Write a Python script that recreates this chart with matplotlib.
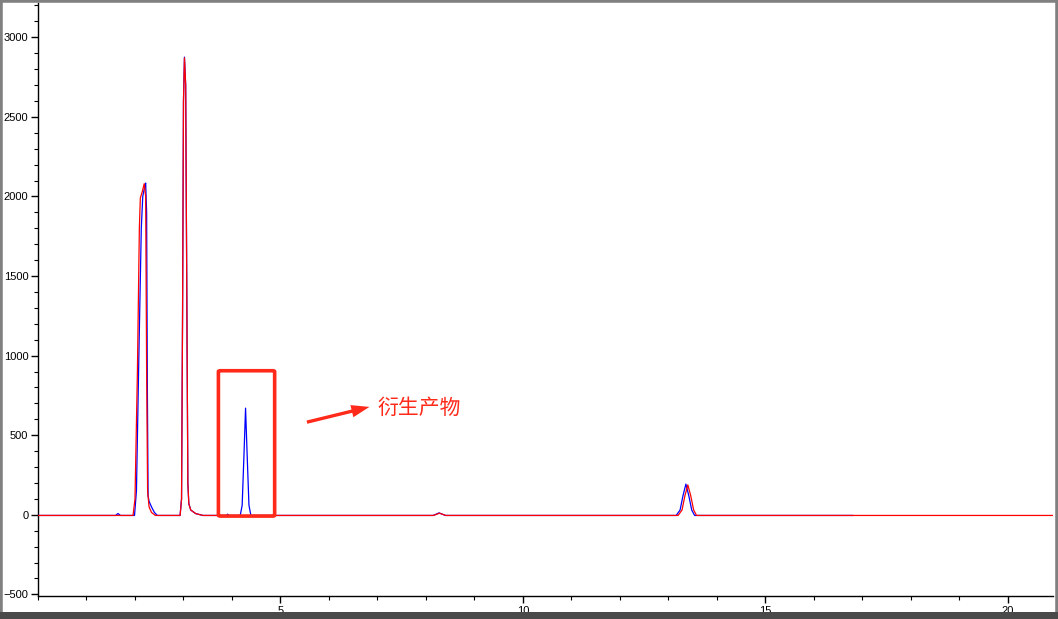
import numpy as np
import matplotlib
matplotlib.use("Agg")
import matplotlib.pyplot as plt
from matplotlib.patches import FancyBboxPatch, FancyArrowPatch, Rectangle
from matplotlib.ticker import MultipleLocator

# chromatogram traces (time in min, signal)
blue_t = [0.0, 1.60, 1.65, 1.70, 1.99, 2.03, 2.08, 2.13, 2.16, 2.20, 2.22, 2.24, 2.255, 2.27,
          2.29, 2.34, 2.40, 2.46, 2.93, 2.96, 2.98, 3.00, 3.02, 3.045, 3.07, 3.09, 3.11, 3.15,
          3.25, 3.40, 3.88, 3.91, 3.94, 4.17, 4.21, 4.25, 4.28, 4.31, 4.35, 4.39, 8.15, 8.27,
          8.40, 13.16, 13.24, 13.30, 13.36, 13.42, 13.48, 13.54, 16.8]
blue_y = [-4, -4, 8, -4, -4, 150, 1000, 1800, 2000, 2060, 2084, 1900, 800, 120,
          85, 50, 15, -4, -4, 100, 1200, 2600, 2875, 2700, 1300, 200, 70, 30,
          8, -4, -4, 4, -4, -4, 60, 400, 670, 400, 60, -4, -4, 12,
          -4, -4, 30, 120, 193, 120, 30, -4, -4]

red_t = [0.0, 1.96, 2.00, 2.05, 2.09, 2.11, 2.15, 2.19, 2.22, 2.24, 2.26, 2.29, 2.34, 2.42,
         2.93, 2.96, 2.98, 3.00, 3.02, 3.045, 3.07, 3.09, 3.11, 3.15, 3.25, 3.40, 8.15, 8.28,
         8.41, 13.20, 13.28, 13.34, 13.40, 13.46, 13.52, 13.58, 20.93]
red_y = [-4, -4, 100, 900, 1800, 1990, 2030, 2080, 2000, 900, 150, 50, 15, -4,
         -4, 100, 1200, 2600, 2870, 2700, 1300, 200, 70, 30, 8, -4, -4, 10,
         -4, -4, 30, 120, 188, 120, 30, -4, -4]

x_major = [5, 10, 15, 20]
y_major = [-500, 0, 500, 1000, 1500, 2000, 2500, 3000]
box_x = (3.72, 4.88)
box_y = (-8, 905)
label = "衍生产物"

fig = plt.figure(figsize=(10.58, 6.19), dpi=100)
ax = fig.add_axes([38 / 1058, 23 / 619, 1015 / 1058, 593 / 619])

ax.plot(blue_t, blue_y, color="#0000FF", linewidth=0.9, zorder=3)
ax.plot(red_t, red_y, color="#FF0000", linewidth=0.9, zorder=4)

ax.set_xlim(0, 20.93)
ax.set_ylim(-510, 3215)
ax.set_xticks(x_major)
ax.set_yticks(y_major)
ax.xaxis.set_minor_locator(MultipleLocator(1))
ax.yaxis.set_minor_locator(MultipleLocator(100))
ax.tick_params(which="major", direction="out", length=5, width=1, labelsize=8, pad=2)
ax.tick_params(which="minor", direction="out", length=3, width=0.8)
for lab in ax.get_xticklabels() + ax.get_yticklabels():
    lab.set_family("Liberation Sans")
ax.spines["top"].set_visible(False)
ax.spines["right"].set_visible(False)
ax.spines["left"].set_linewidth(1)
ax.spines["bottom"].set_linewidth(1)

# highlight box around the derivative peak
box = FancyBboxPatch((box_x[0], box_y[0]), box_x[1] - box_x[0], box_y[1] - box_y[0],
                     boxstyle="round,pad=0,rounding_size=0.04", mutation_aspect=160,
                     fill=False, edgecolor="#FF2A1A", linewidth=2.6, zorder=5)
ax.add_patch(box)

arrow = FancyArrowPatch((5.49, 578), (6.89, 682),
                        arrowstyle="simple,head_width=9,head_length=13,tail_width=2.4",
                        color="#FF2A1A", linewidth=0, zorder=5)
ax.add_patch(arrow)
ax.text(6.99, 672, label, color="#FF2A1A", fontsize=15, va="center", ha="left",
        family=["Noto Sans CJK SC", "DejaVu Sans"])

# grey window frame
fig.patches.append(Rectangle((0, 0), 1, 1, transform=fig.transFigure, fill=False,
                             edgecolor="#808080", linewidth=4, zorder=10))
fig.patches.append(Rectangle((0, 0), 1, 7 / 619, transform=fig.transFigure,
                             facecolor="#4a4a4a", edgecolor="none", zorder=10))

fig.savefig("out.png", dpi=100)
